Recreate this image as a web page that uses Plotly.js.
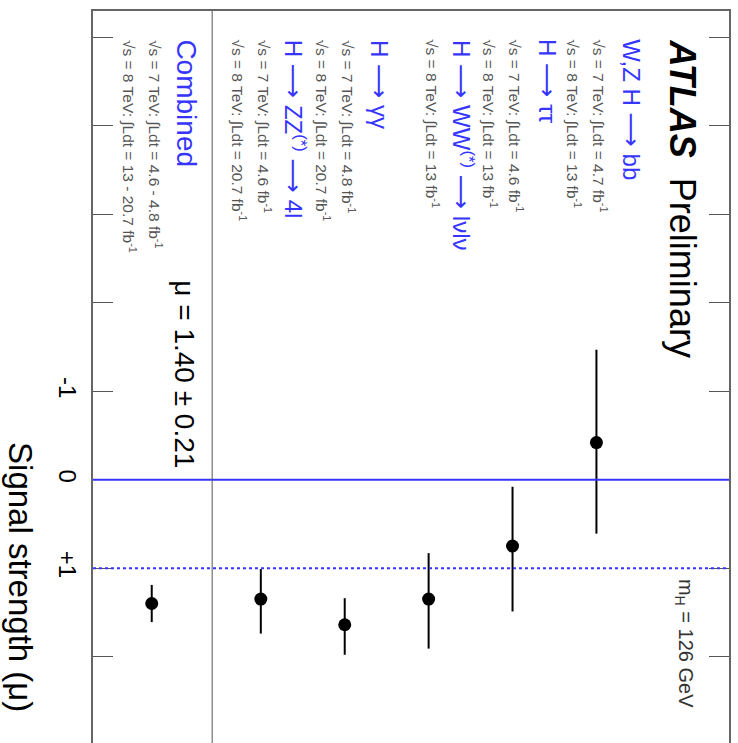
<!DOCTYPE html>
<html>
<head>
<meta charset="utf-8">
<script src="https://cdn.plot.ly/plotly-3.0.1.min.js"></script>
<style>
  html, body { margin: 0; padding: 0; background: #fff; overflow: hidden; }
  #chart { width: 738px; height: 755px; }
</style>
</head>
<body>
<div id="chart"></div>
<script>
// Higgs signal strength per channel (mH = 126 GeV), drawn with the mu axis running downwards
const ARROW = '<span style="font-family:DejaVu Sans">\u27f6</span>';
const channels = ['W,Z H ' + ARROW + ' bb', 'H ' + ARROW + ' \u03c4\u03c4',
                  'H ' + ARROW + ' WW<sup>(*)</sup> ' + ARROW + ' l\u03bdl\u03bd',
                  'H ' + ARROW + ' \u03b3\u03b3', 'H ' + ARROW + ' ZZ<sup>(*)</sup> ' + ARROW + ' 4l', 'Combined'];
const mu       = [-0.42, 0.75, 1.35, 1.64, 1.35, 1.40];
const errUp    = [1.03, 0.74, 0.56, 0.34, 0.39, 0.21];
const errDown  = [1.05, 0.67, 0.52, 0.30, 0.34, 0.21];
const lumi7TeV = ['4.7', '4.6', null, '4.8', '4.6', '4.6 - 4.8'];
const lumi8TeV = ['13', '13', '13', '20.7', '20.7', '13 - 20.7'];
const rowPos   = [6, 5, 4, 3, 2, 0.7];
const muTicks      = [-5, -4, -3, -2, -1, 0, 1, 2];
const muTickLabels = ['', '', '', '', '-1', '0', '+1', ''];
const combinedText = '\u03bc = 1.40 \u00b1 0.21';

const BLUE = '#3535ff';
const GREY = '#555555';
const FONT = 'Liberation Sans, Arial, Helvetica, sans-serif';
const MU_TOP = -5.30, MU_BOTTOM = 3.0;
const ROW_MIN = 0, ROW_MAX = 7.58;
const TEXT_START = -5.0;

const trace = {
  type: 'scatter', mode: 'markers',
  x: rowPos, y: mu,
  marker: { color: '#000', size: 13 },
  error_y: { type: 'data', symmetric: false, array: errUp, arrayminus: errDown,
             color: '#000', thickness: 2, width: 0 },
  hoverinfo: 'skip', showlegend: false
};

const annotations = [];
function lumiLine(energy, lumi) {
  return '\u221as = ' + energy + ' TeV: \u222bLdt = ' + lumi + ' fb<sup>-1</sup>';
}
channels.forEach((name, i) => {
  const r = rowPos[i];
  annotations.push({
    xref: 'x', yref: 'y', x: r + 0.41, y: TEXT_START, xanchor: 'center', yanchor: 'top',
    text: name, textangle: 90, showarrow: false,
    font: { family: FONT, size: name === 'Combined' ? 28 : 24, color: BLUE }
  });
  const lines = [];
  if (lumi7TeV[i]) lines.push(lumiLine(7, lumi7TeV[i]));
  if (lumi8TeV[i]) lines.push(lumiLine(8, lumi8TeV[i]));
  lines.forEach((t, k) => {
    annotations.push({
      xref: 'x', yref: 'y', x: r + (k === 0 ? 0.04 : -0.27), y: TEXT_START,
      xanchor: 'center', yanchor: 'top', text: t, textangle: 90, showarrow: false,
      font: { family: FONT, size: 15.5, color: GREY }
    });
  });
});
annotations.push({
  xref: 'x', yref: 'y', x: rowPos[5] + 0.38, y: -0.11, xanchor: 'center', yanchor: 'bottom',
  text: combinedText, textangle: 90, showarrow: false,
  font: { family: FONT, size: 28, color: '#000' }
});
annotations.push({
  xref: 'x', yref: 'y', x: 7.02, y: TEXT_START, xanchor: 'center', yanchor: 'top',
  text: '<b><i>ATLAS</i></b>  Preliminary', textangle: 90, showarrow: false,
  font: { family: FONT, size: 36, color: '#000' }
});
annotations.push({
  xref: 'x', yref: 'y', x: 7.05, y: 1.1, xanchor: 'center', yanchor: 'top',
  text: 'm<sub>H</sub> = 126 GeV', textangle: 90, showarrow: false,
  font: { family: FONT, size: 20, color: '#333' }
});
annotations.push({
  xref: 'paper', yref: 'y', x: -0.115, y: -0.45, xanchor: 'center', yanchor: 'top',
  text: 'Signal strength (\u03bc)', textangle: 90, showarrow: false,
  font: { family: FONT, size: 33, color: '#000' }
});

const shapes = [
  { type: 'line', xref: 'paper', yref: 'y', x0: 0, x1: 1, y0: 0, y1: 0,
    line: { color: BLUE, width: 2 } },
  { type: 'line', xref: 'paper', yref: 'y', x0: 0, x1: 1, y0: 1, y1: 1,
    line: { color: BLUE, width: 2, dash: 'dot' } },
  { type: 'line', xref: 'x', yref: 'paper', x0: 1.42, x1: 1.42, y0: 0, y1: 1,
    line: { color: GREY, width: 1 } }
];

const layout = {
  width: 738, height: 755,
  margin: { l: 93, r: 9, t: 11, b: 10 },
  paper_bgcolor: '#fff', plot_bgcolor: '#fff',
  xaxis: { range: [ROW_MIN, ROW_MAX], showgrid: false, zeroline: false,
           showticklabels: false, ticks: '', showline: true, mirror: true,
           linecolor: '#666', linewidth: 2 },
  yaxis: { range: [MU_BOTTOM, MU_TOP], showgrid: false, zeroline: false,
           tickmode: 'array', tickvals: muTicks, ticktext: muTickLabels,
           ticks: 'inside', ticklen: 20, tickcolor: GREY, tickwidth: 1,
           tickangle: 90, ticklabelstandoff: 3,
           tickfont: { family: FONT, size: 24, color: '#000' },
           showline: true, mirror: 'ticks', linecolor: '#666', linewidth: 2 },
  annotations: annotations,
  shapes: shapes
};

Plotly.newPlot('chart', [trace], layout, { staticPlot: true, displayModeBar: false });
</script>
</body>
</html>
